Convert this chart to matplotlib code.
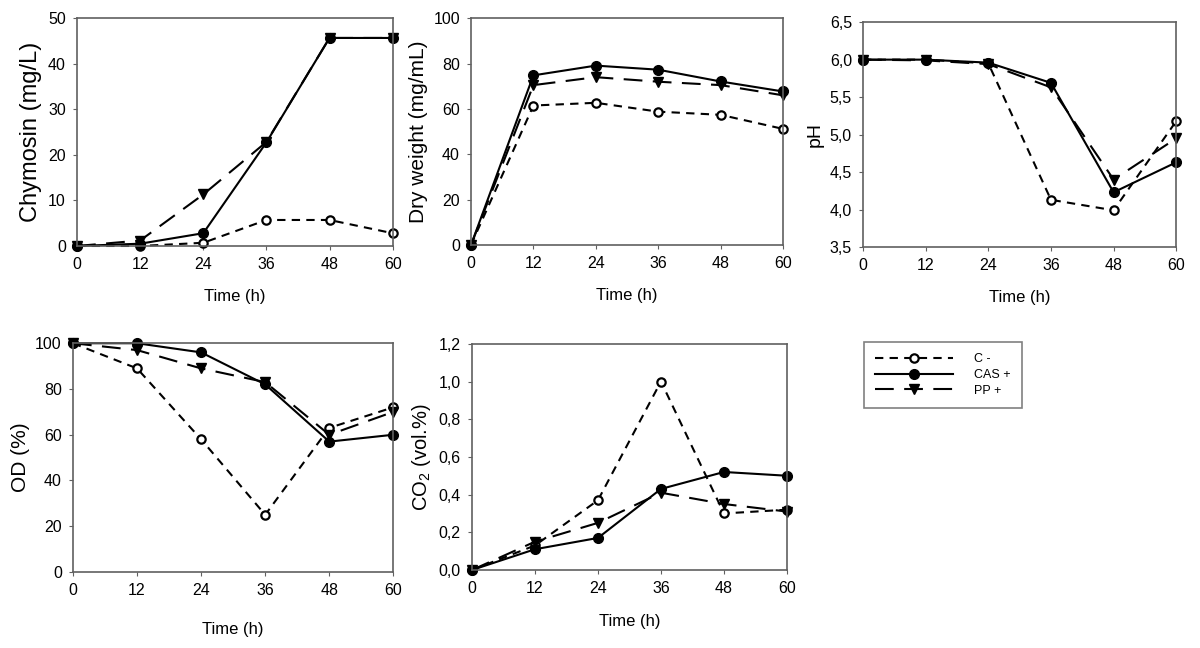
import matplotlib
matplotlib.use('Agg')
import matplotlib.pyplot as plt
from matplotlib.ticker import FuncFormatter

plt.rcParams['font.family'] = ['Liberation Sans', 'DejaVu Sans']

time_h = [0, 12, 24, 36, 48, 60]
series_names = ['C -', 'CAS +', 'PP +']

chymosin_c = [0, 0, 0.7, 5.7, 5.7, 2.8]
chymosin_cas = [0, 0.5, 2.8, 22.7, 45.6, 45.6]
chymosin_pp = [0, 1.2, 11.3, 22.8, 45.6, 45.6]

dry_c = [0, 61.5, 62.7, 58.8, 57.4, 51.2]
dry_cas = [0, 74.8, 79.1, 77.3, 72.1, 67.7]
dry_pp = [0, 70.5, 74.0, 72.0, 70.5, 66.0]

ph_c = [6.0, 6.0, 5.95, 4.13, 3.99, 5.18]
ph_cas = [6.0, 6.0, 5.96, 5.69, 4.23, 4.63]
ph_pp = [6.0, 5.99, 5.94, 5.63, 4.40, 4.95]

od_c = [100, 89, 58, 25, 63, 72]
od_cas = [100, 100, 96, 82, 57, 60]
od_pp = [100, 97, 89, 83, 60, 70]

co2_c = [0, 0.13, 0.37, 1.0, 0.30, 0.32]
co2_cas = [0, 0.11, 0.17, 0.43, 0.52, 0.50]
co2_pp = [0, 0.15, 0.25, 0.41, 0.35, 0.31]

styles = [
    dict(ls=(0, (4, 3)), marker='o', mfc='white', mec='black', ms=6, mew=1.6),
    dict(ls='-', marker='o', mfc='black', mec='black', ms=7),
    dict(ls=(0, (9, 5)), marker='v', mfc='black', mec='black', ms=7),
]

comma = FuncFormatter(lambda v, p: ('%.1f' % v).replace('.', ','))


def panel(rect, data, ylim, yticks, ylabel, ylabel_size, fmt=None, xpad=14):
    ax = fig.add_axes(rect)
    lines = []
    for vals, st in zip(data, styles):
        ln, = ax.plot(time_h, vals, color='black', lw=1.5, clip_on=False, **st)
        lines.append(ln)
    ax.set_xlim(0, 60)
    ax.set_xticks(time_h)
    ax.set_ylim(*ylim)
    ax.set_yticks(yticks)
    if fmt is not None:
        ax.yaxis.set_major_formatter(fmt)
    ax.set_xlabel('Time (h)', fontsize=12, labelpad=xpad)
    ax.set_ylabel(ylabel, fontsize=ylabel_size, labelpad=4)
    for s in ax.spines.values():
        s.set_color('#606060')
        s.set_linewidth(1.2)
    ax.tick_params(labelsize=11.5, direction='out', length=3, color='#606060', pad=5)
    return lines


fig = plt.figure(figsize=(12, 6.48), dpi=100)

lines = panel([0.0642, 0.6204, 0.263, 0.352], [chymosin_c, chymosin_cas, chymosin_pp],
              (0, 50), range(0, 51, 10), 'Chymosin (mg/L)', 17, xpad=12)
panel([0.3925, 0.6219, 0.26, 0.350], [dry_c, dry_cas, dry_pp],
      (0, 100), range(0, 101, 20), 'Dry weight (mg/mL)', 15, xpad=12)
panel([0.7192, 0.6188, 0.261, 0.347], [ph_c, ph_cas, ph_pp],
      (3.5, 6.5), [3.5, 4.0, 4.5, 5.0, 5.5, 6.0, 6.5], 'pH', 14, comma, xpad=12)
panel([0.0608, 0.1173, 0.267, 0.353], [od_c, od_cas, od_pp],
      (0, 100), range(0, 101, 20), 'OD (%)', 15, xpad=17)
panel([0.3933, 0.1204, 0.2625, 0.349], [co2_c, co2_cas, co2_pp],
      (0, 1.2), [0, 0.2, 0.4, 0.6, 0.8, 1.0, 1.2], r'CO$_\mathregular{2}$ (vol.%)', 14.5, comma,
      xpad=13)

leg = fig.legend(lines, series_names, loc='upper left',
                 bbox_to_anchor=(864 / 1200, 1 - 342 / 648),
                 frameon=True, fancybox=False, fontsize=9, handlelength=6.2,
                 labelspacing=0.3, borderpad=0.9, handletextpad=1.7,
                 borderaxespad=0)
leg.get_frame().set_edgecolor('#606060')
leg.get_frame().set_linewidth(1.2)

fig.savefig('out.png', dpi=100)
